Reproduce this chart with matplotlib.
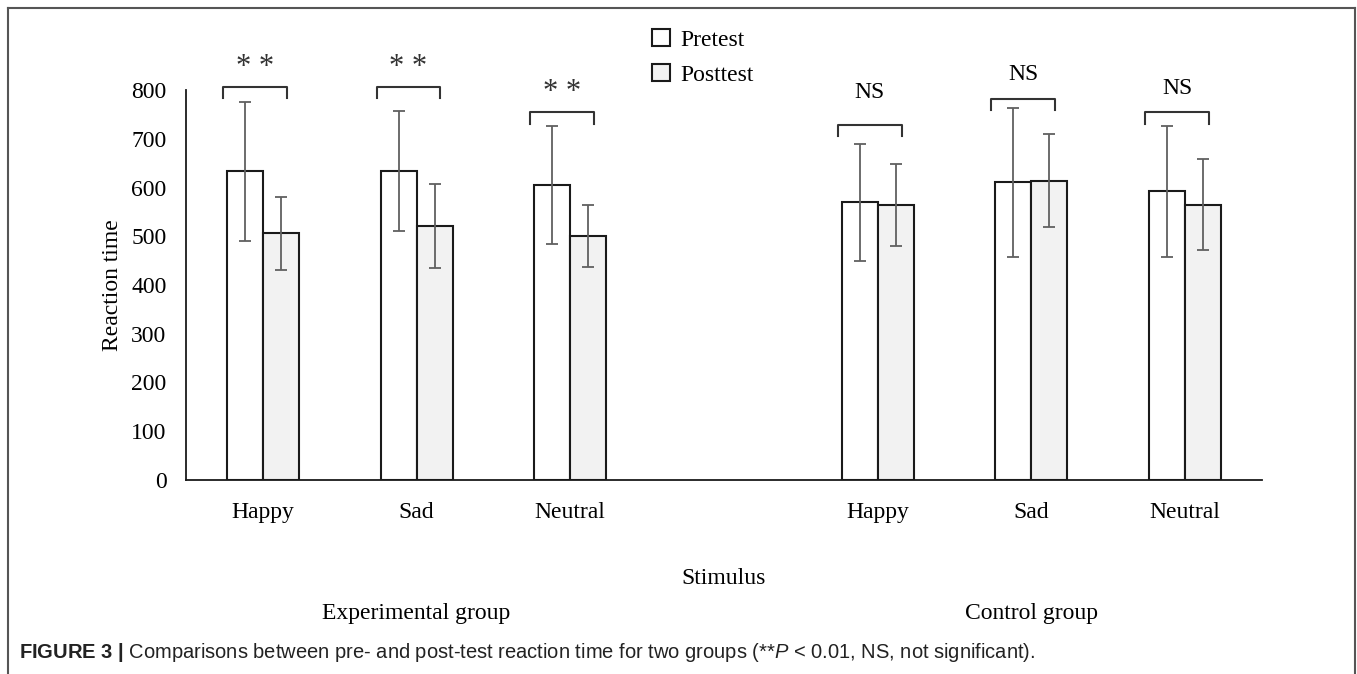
import matplotlib
matplotlib.use("Agg")
import matplotlib.pyplot as plt
from matplotlib.lines import Line2D
import numpy as np

# data
categories = ["Happy", "Sad", "Neutral", "", "Happy", "Sad", "Neutral"]
pre_mean = [633, 633, 605, np.nan, 570, 611, 592]
pre_sd = [143, 123, 121, np.nan, 120, 153, 134]
post_mean = [506, 521, 500, np.nan, 565, 614, 565]
post_sd = [75, 87, 64, np.nan, 84, 95, 94]

# significance brackets: (category index, bracket height, label height, label)
sig_pos = [0, 1, 2, 4, 5, 6]
sig_height = [807, 807, 754, 728, 781, 754]
sig_text_y = [849, 849, 797, 794, 831, 804]
sig_label = ["* *", "* *", "* *", "NS", "NS", "NS"]

group_labels = ["Experimental group", "Control group"]
group_pos = [1, 5]

serif = "Liberation Serif"
plt.rcParams['font.family'] = serif
plt.rcParams['mathtext.fontset'] = 'custom'
plt.rcParams['mathtext.rm'] = 'Liberation Sans'
plt.rcParams['mathtext.it'] = 'Liberation Sans:italic'
plt.rcParams['mathtext.bf'] = 'Liberation Sans:bold'

W, H = 1357, 674
fig = plt.figure(figsize=(W / 100, H / 100), dpi=100)
ax = fig.add_axes([186 / W, 1 - 480 / H, (1262 - 186) / W, (480 - 90) / H])

x = np.arange(len(categories))
bw = 0.234
ax.bar(x - bw / 2, pre_mean, bw, color="white", edgecolor="#1a1a1a", lw=1.5,
       label="Pretest", zorder=2)
ax.bar(x + bw / 2, post_mean, bw, color="#f2f2f2", edgecolor="#1a1a1a", lw=1.5,
       label="Posttest", zorder=2)
ax.errorbar(x - bw / 2, pre_mean, yerr=pre_sd, fmt="none", ecolor="#606060",
            elinewidth=1.3, capsize=4, capthick=1.3, zorder=3)
ax.errorbar(x + bw / 2, post_mean, yerr=post_sd, fmt="none", ecolor="#606060",
            elinewidth=1.3, capsize=4, capthick=1.3, zorder=3)

# brackets with stars / NS
for p, h, ty, lab in zip(sig_pos, sig_height, sig_text_y, sig_label):
    x0, x1 = p - 0.26, p + 0.155
    ax.plot([x0, x0, x1, x1], [h - 23, h, h, h - 23], color="#333333", lw=1.5,
            clip_on=False, zorder=4)
    if lab == "NS":
        ax.text((x0 + x1) / 2, ty, lab, ha="center", va="center",
                fontsize=17, clip_on=False)
    else:
        ax.text((x0 + x1) / 2, ty - 2, lab, ha="center", va="center",
                fontsize=22, color="#333333", clip_on=False)

ax.set_xlim(-0.5, len(categories) - 0.5)
ax.set_ylim(0, 800)
ax.set_yticks(range(0, 801, 100))
ax.set_xticks([i for i in x if categories[i]])
ax.set_xticklabels([c for c in categories if c])
ax.tick_params(axis="y", length=0, pad=14, labelsize=17)
ax.tick_params(axis="x", length=0, pad=16, labelsize=17)
for s in ["top", "right"]:
    ax.spines[s].set_visible(False)
ax.spines["left"].set_color("#1a1a1a")
ax.spines["bottom"].set_color("#1a1a1a")
ax.spines["left"].set_linewidth(1.3)
ax.spines["bottom"].set_linewidth(1.3)
ax.set_ylabel("Reaction time", fontsize=17, labelpad=6)

trans = ax.get_xaxis_transform()
ax.text(3, -(578 - 480) / 390, "Stimulus", transform=trans, ha="center",
        va="center", fontsize=17)
for gp, gl in zip(group_pos, group_labels):
    ax.text(gp, -(614 - 480) / 390, gl, transform=trans, ha="center",
            va="center", fontsize=17)

fig.legend(loc="upper left", bbox_to_anchor=(640 / W, 1 - 17 / H), frameon=False,
           fontsize=17, handlelength=0.75, handleheight=0.75, handletextpad=0.45,
           labelspacing=0.55, borderpad=0)

# frame around the figure panel
fc = "#555555"
fig.add_artist(Line2D([8 / W, 8 / W], [0, 1 - 8 / H], color=fc, lw=1.5))
fig.add_artist(Line2D([8 / W, 1355 / W], [1 - 8 / H, 1 - 8 / H], color=fc, lw=1.5))
fig.add_artist(Line2D([1355 / W, 1355 / W], [0, 1 - 8 / H], color=fc, lw=1.5))

fig.text(19 / W, 1 - 653 / H,
         r"$\bf{FIGURE\ 3\ |}$ Comparisons between pre- and post-test reaction time "
         r"for two groups (**$\it{P}$ < 0.01, NS, not significant).",
         family="Liberation Sans", fontsize=14.5, va="center", color="#222222")

fig.savefig("out.png", dpi=100)
